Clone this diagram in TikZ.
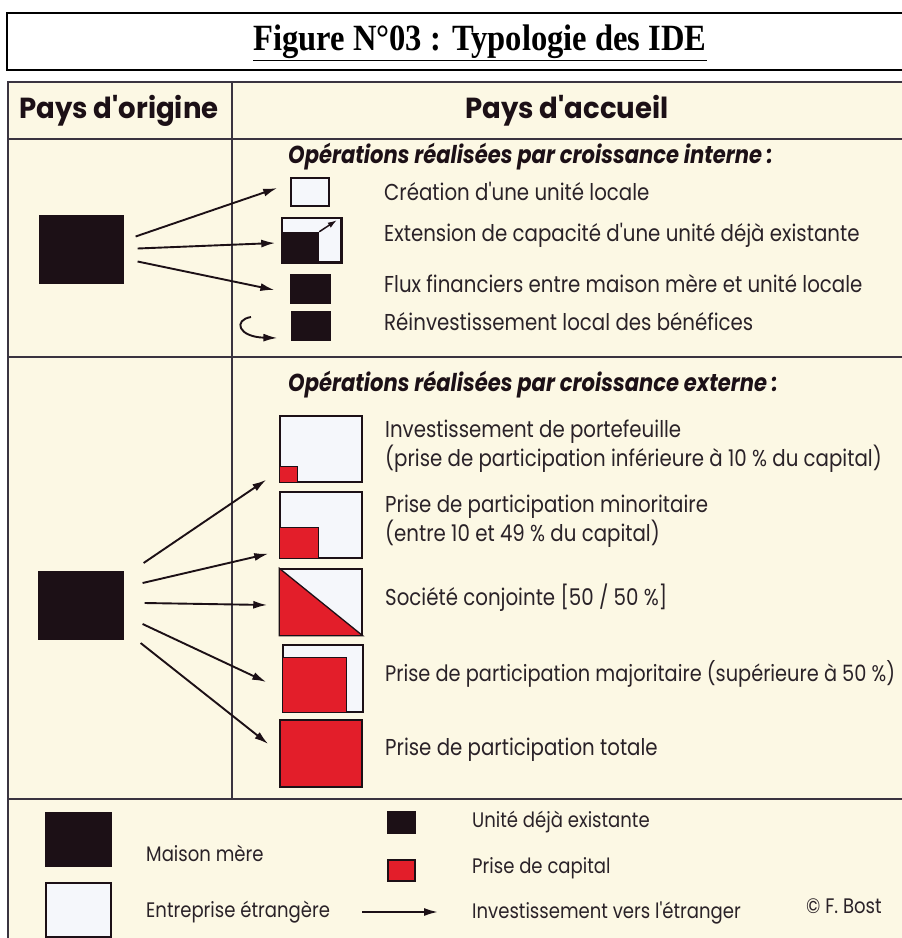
\documentclass[tikz,border=0pt]{standalone}
\usepackage{fontspec}
\usetikzlibrary{arrows.meta}
\newfontfamily\fut{Poppins}[FakeStretch=0.86]
\newfontfamily\futw{Poppins}[FakeStretch=0.95]
\newfontfamily\tnr{Liberation Serif}[FakeStretch=0.88]
\definecolor{cream}{HTML}{FCF8E4}
\definecolor{paper}{HTML}{F5F7FB}
\definecolor{ink}{HTML}{1C1016}
\definecolor{txt}{HTML}{2A2228}
\definecolor{rouge}{HTML}{E31E2A}
\definecolor{rulec}{HTML}{3A3440}
\begin{document}
\begin{tikzpicture}[x=1pt,y=-1pt,
  frame/.style={draw=rulec,line width=1.7pt},
  tbox/.style={draw=black,line width=1.4pt},
  sq/.style={draw=ink,line width=1.5pt,inner sep=0pt,fill=paper},
  bsq/.style={draw=ink,line width=1.2pt,inner sep=0pt,fill=ink},
  rsq/.style={draw=ink,line width=1.5pt,inner sep=0pt,fill=rouge},
  redpart/.style={draw=ink,line width=1.3pt,fill=rouge},
  arr/.style={draw=ink,line width=1.9pt,-{Latex[length=14pt,width=8pt]}},
  body/.style={anchor=west,inner sep=0pt,text=txt,font=\fut\fontsize{23}{24}\selectfont,align=left},
  leg/.style={anchor=west,inner sep=0pt,text=txt,font=\fut\fontsize{21}{24}\selectfont},
  headit/.style={anchor=west,inner sep=0pt,text=ink,font=\fut\bfseries\itshape\fontsize{24.5}{28}\selectfont},
  colhead/.style={inner sep=0pt,text=ink,font=\futw\bfseries\fontsize{29}{32}\selectfont}
]
\useasboundingbox (0,0) rectangle (902,938);
\fill[white] (0,0) rectangle (902,938);
\fill[cream] (8,82) rectangle (902,938);

% title
\draw[tbox] (902,13) -- (7,13) -- (7,70) -- (902,70);
\node[inner sep=0pt,font=\tnr\bfseries\fontsize{37}{40}\selectfont] (title) at (480,43) {\underline{Figure N°03 : Typologie des IDE}};

% frame
\draw[frame] (902,82) -- (8,82) -- (8,938);
\draw[frame] (8,139) -- (902,139);
\draw[frame] (8,357) -- (902,357);
\draw[frame] (8,799) -- (902,799);
\draw[frame] (232,82) -- (232,799);

\node[colhead] (ho) at (119,111) {Pays d'origine};
\node[colhead] (ha) at (567,111) {Pays d'accueil};

% ---------- croissance interne
\node[headit] (hi) at (288,157) {Opérations réalisées par croissance interne :};
\node[bsq,minimum width=83pt,minimum height=67pt] (M1) at (81.5,249.5) {};
\node[sq,minimum width=38pt,minimum height=28pt] (s1) at (310,192) {};
\node[sq,minimum width=59pt,minimum height=44pt] (s2) at (311.5,240) {};
\fill[ink] (s2.south west) rectangle ++(38,-31);
\draw[sq,fill=none] (s2.south west) rectangle (s2.north east);
\coordinate (s2a) at ([shift={(38,-31)}]s2.south west);
\coordinate (s2b) at ([shift={(-5,3)}]s2.north east);
\draw[draw=ink,line width=1.5pt,-{Latex[length=9pt,width=6pt]}] (s2a) -- (s2b);
\node[bsq,minimum width=39pt,minimum height=28pt] (s3) at (310.5,289) {};
\node[bsq,minimum width=38pt,minimum height=28pt] (s4) at (311,326) {};

\node[body] (ti1) at (384,191) {Création d'une unité locale};
\node[body] (ti2) at (384,235) {Extension de capacité d'une unité déjà existante};
\node[body] (ti3) at (384,284) {Flux financiers entre maison mère et unité locale};
\node[body] (ti4) at (384,322) {Réinvestissement local des bénéfices};

\draw[arr] ([shift={(12,-13)}]M1.east) -- ([shift={(-13,-4)}]s1.west);
\draw[arr] ([shift={(14,-1)}]M1.east) -- ([shift={(-6,3)}]s2.west);
\draw[arr] ([shift={(14,12)}]M1.east) -- ([shift={(-16,1)}]s3.west);
\coordinate (c0) at (251,317);
\draw[arr] (c0) .. controls (233,320) and (238,337) .. ([shift={(-14,12)}]s4.west);

% ---------- croissance externe
\node[headit] (he) at (288,385) {Opérations réalisées par croissance externe :};
\node[bsq,minimum width=84pt,minimum height=67pt] (M2) at (81,605.5) {};

\node[sq,minimum width=82pt,minimum height=66pt] (e1) at (321,449) {};
\draw[redpart] (e1.south west) rectangle ++(18,-16);
\node[sq,minimum width=82pt,minimum height=66pt] (e2) at (321,525) {};
\draw[redpart] (e2.south west) rectangle ++(39,-31);
\node[sq,minimum width=82pt,minimum height=66pt] (e3) at (321,602) {};
\draw[redpart] (e3.north west) -- (e3.south east) -- (e3.south west) -- cycle;
\node[sq,minimum width=80pt,minimum height=67pt] (e4) at (323,678.5) {};
\draw[redpart] (e4.south west) rectangle ++(64,-55);
\node[rsq,minimum width=82pt,minimum height=67pt] (e5) at (321,753.5) {};

\node[body] (te1) at (385,446) {Investissement de portefeuille\\(prise de participation inférieure à 10 \% du capital)};
\node[body] (te2) at (385,521) {Prise de participation minoritaire\\(entre 10 et 49 \% du capital)};
\node[body] (te3) at (385,598) {Société conjointe [50 / 50 \%]};
\node[body,font=\fut\fontsize{22.5}{24}\selectfont] (te4) at (385,674) {Prise de participation majoritaire (supérieure à 50 \%)};
\node[body] (te5) at (385,750) {Prise de participation totale};

\draw[arr] ([shift={(20,-42.5)}]M2.east) -- ([shift={(-13,-3)}]e1.south west);
\draw[arr] ([shift={(19,-22.5)}]M2.east) -- ([shift={(-11,-5)}]e2.south west);
\draw[arr] ([shift={(21,-2.5)}]M2.east) -- ([shift={(-12,3)}]e3.west);
\draw[arr] ([shift={(19,18.5)}]M2.east) -- ([shift={(-16,3.5)}]e4.west);
\draw[arr] ([shift={(17,37.5)}]M2.east) -- ([shift={(-11,-9.5)}]e5.west);

% ---------- legend
\node[bsq,minimum width=65pt,minimum height=53pt] (L1) at (78.5,839.5) {};
\node[sq,minimum width=65pt,minimum height=54pt] (L2) at (78.5,910) {};
\node[bsq,minimum width=27pt,minimum height=21pt] (L3) at (401.5,822.5) {};
\node[rsq,minimum width=27pt,minimum height=21pt] (L4) at (401.5,870.5) {};
\node[leg] (lt1) at (146,853) {Maison mère};
\node[leg] (lt2) at (146,912) {Entreprise étrangère};
\node[leg] (lt3) at (472,822) {Unité déjà existante};
\node[leg] (lt4) at (472,868) {Prise de capital};
\node[leg] (lt5) at (472,913) {Investissement vers l'étranger};
\coordinate (la) at (362,912);
\coordinate (lb) at (438,912);
\draw[arr] (la) -- (lb);
\node[leg] (cp) at (806,906) {© F. Bost};
\end{tikzpicture}
\end{document}
